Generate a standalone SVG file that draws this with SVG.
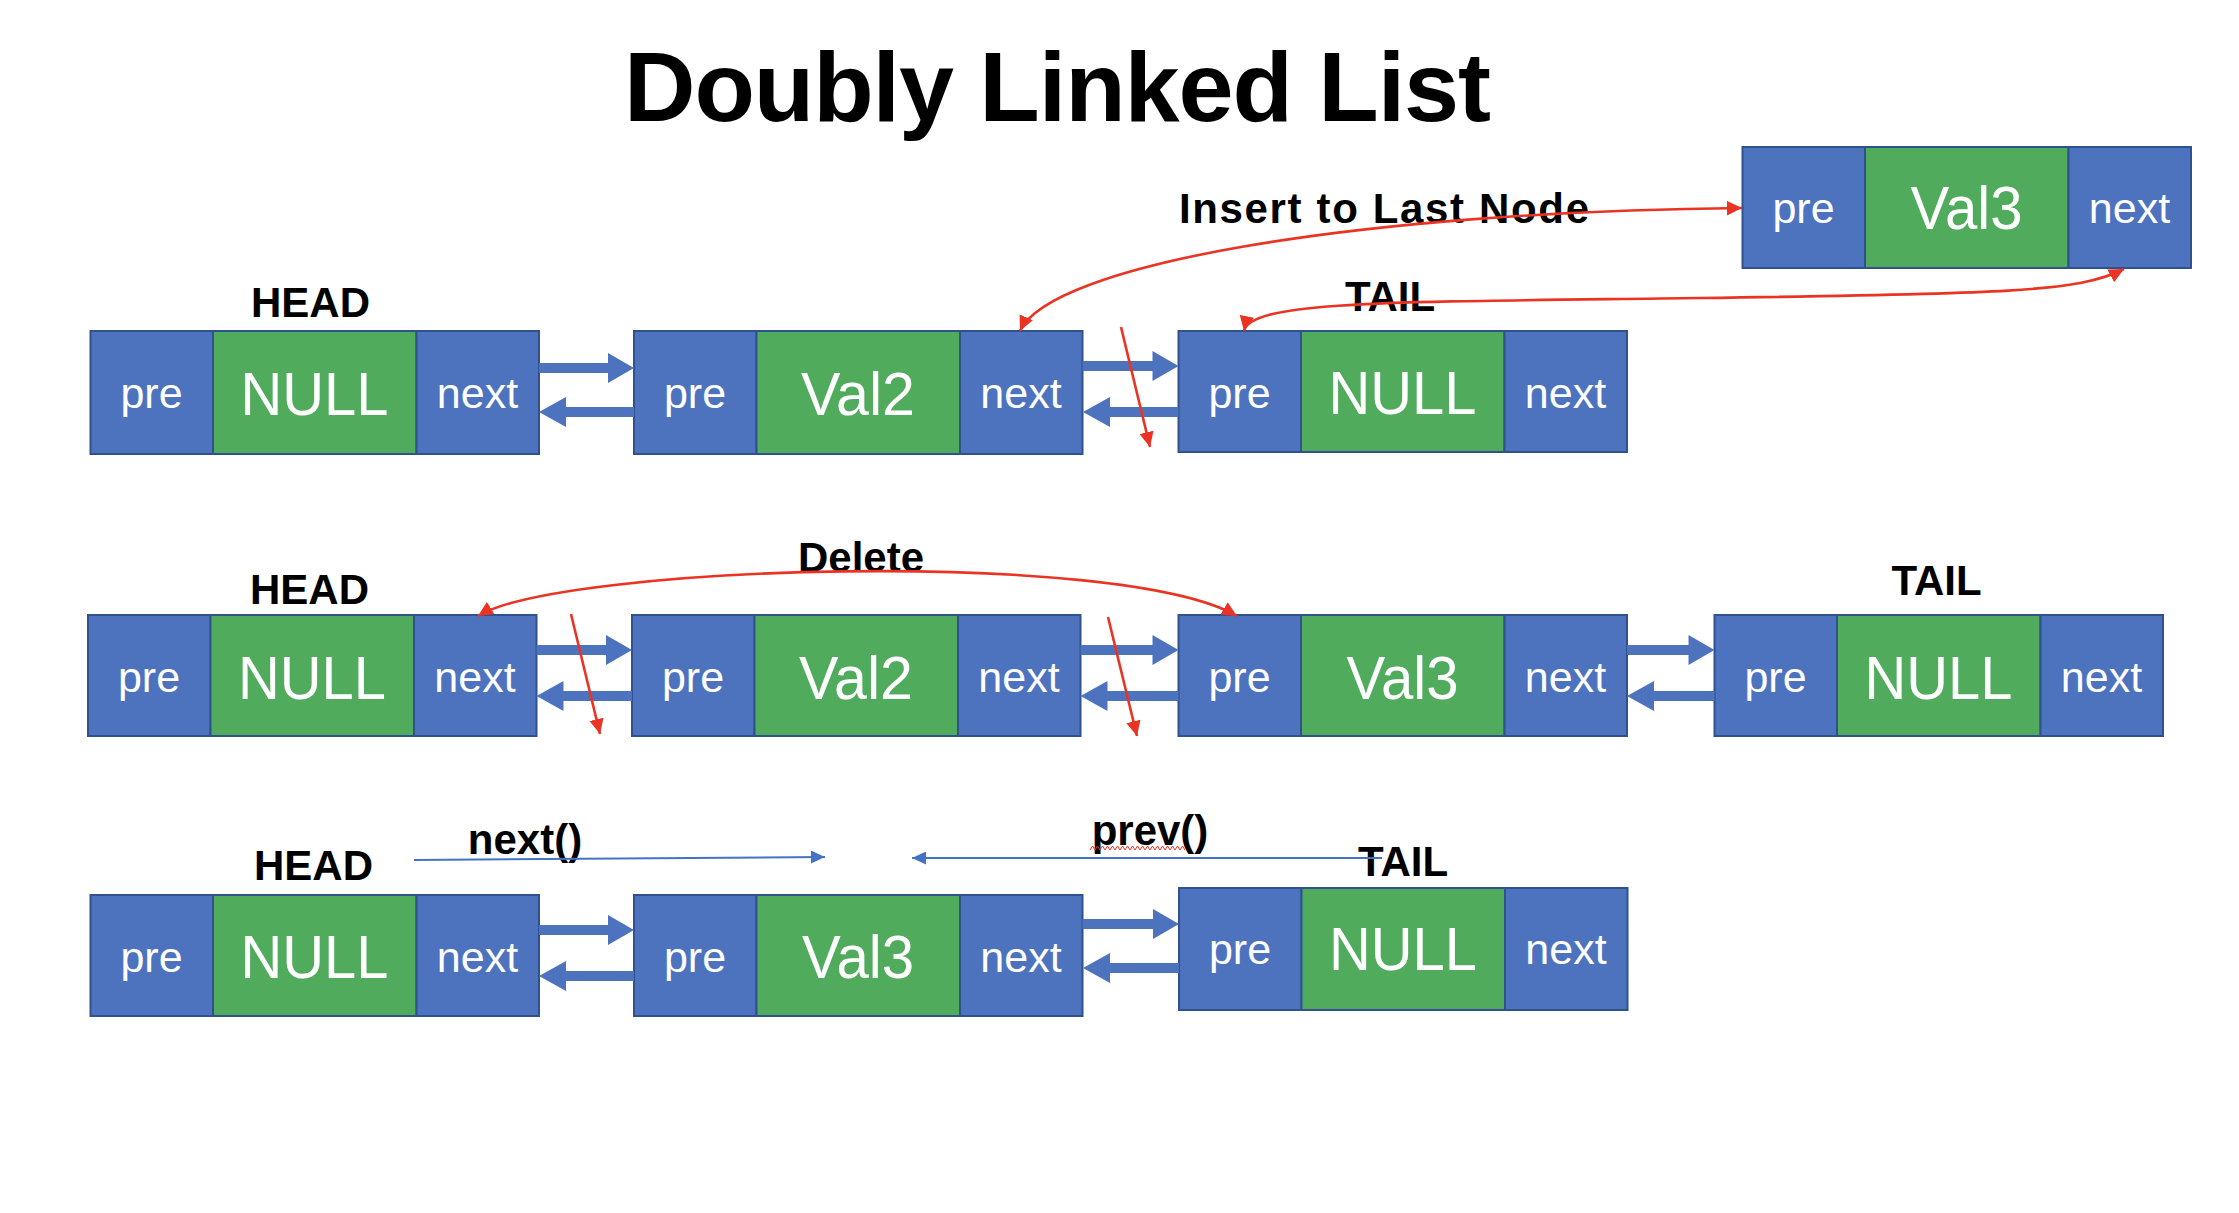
<svg xmlns="http://www.w3.org/2000/svg" width="2239" height="1213" viewBox="0 0 2239 1213">
<style>
.c{fill:#4E73BE;stroke:#2F528F;stroke-width:2}
.v{fill:#51AB5D;stroke:#2F528F;stroke-width:2}
.t{font-family:"Liberation Sans",Arial,sans-serif;fill:#fff;text-anchor:middle}
.s{font-size:43px}
.b{font-size:62px}
.lb{font-family:"Liberation Sans",Arial,sans-serif;font-weight:bold;font-size:42px;fill:#000;text-anchor:middle}
.ba{fill:#4E73BE}
.red{fill:none;stroke:#EA3323;stroke-width:2.6}
.bl{fill:none;stroke:#4472C4;stroke-width:2}
</style>
<defs>
<marker id="ra" markerUnits="userSpaceOnUse" markerWidth="16" markerHeight="15" refX="15" refY="7.25" orient="auto-start-reverse"><path d="M0,0 L15,7.25 L0,14.5 z" fill="#EA3323"/></marker>
<marker id="ba" markerUnits="userSpaceOnUse" markerWidth="15" markerHeight="13" refX="14" refY="6.5" orient="auto"><path d="M0,0 L14,6.5 L0,13 z" fill="#4472C4"/></marker>
</defs>
<rect width="2239" height="1213" fill="#fff"/>

<text x="624" y="121" font-family="Liberation Sans,Arial,sans-serif" font-weight="bold" font-size="99" textLength="867" lengthAdjust="spacing">Doubly Linked List</text>

<g id="r1n1" transform="translate(90.5,331)"><rect class="c" width="122.5" height="123"/><rect class="v" x="122.5" width="203.5" height="123"/><rect class="c" x="326" width="122.5" height="123"/><text class="t s" x="61" y="77">pre</text><text class="t b" x="224" y="84" textLength="148" lengthAdjust="spacingAndGlyphs">NULL</text><text class="t s" x="387" y="77">next</text></g>
<g id="r1n2" transform="translate(634,331)"><rect class="c" width="122.5" height="123"/><rect class="v" x="122.5" width="203.5" height="123"/><rect class="c" x="326" width="122.5" height="123"/><text class="t s" x="61" y="77">pre</text><text class="t b" x="224" y="84" textLength="114" lengthAdjust="spacingAndGlyphs">Val2</text><text class="t s" x="387" y="77">next</text></g>
<g id="r1n3" transform="translate(1178.5,331)"><rect class="c" width="122.5" height="121"/><rect class="v" x="122.5" width="203.5" height="121"/><rect class="c" x="326" width="122.5" height="121"/><text class="t s" x="61" y="77">pre</text><text class="t b" x="224" y="83" textLength="148" lengthAdjust="spacingAndGlyphs">NULL</text><text class="t s" x="387" y="77">next</text></g>
<g id="r1v3" transform="translate(1742.5,147)"><rect class="c" width="122.5" height="121"/><rect class="v" x="122.5" width="203.5" height="121"/><rect class="c" x="326" width="122.5" height="121"/><text class="t s" x="61" y="76">pre</text><text class="t b" x="224" y="82" textLength="112" lengthAdjust="spacingAndGlyphs">Val3</text><text class="t s" x="387" y="76">next</text></g>

<g id="r2n1" transform="translate(88,615)"><rect class="c" width="122.5" height="121"/><rect class="v" x="122.5" width="203.5" height="121"/><rect class="c" x="326" width="122.5" height="121"/><text class="t s" x="61" y="77">pre</text><text class="t b" x="224" y="84" textLength="148" lengthAdjust="spacingAndGlyphs">NULL</text><text class="t s" x="387" y="77">next</text></g>
<g id="r2n2" transform="translate(632,615)"><rect class="c" width="122.5" height="121"/><rect class="v" x="122.5" width="203.5" height="121"/><rect class="c" x="326" width="122.5" height="121"/><text class="t s" x="61" y="77">pre</text><text class="t b" x="224" y="84" textLength="114" lengthAdjust="spacingAndGlyphs">Val2</text><text class="t s" x="387" y="77">next</text></g>
<g id="r2n3" transform="translate(1178.5,615)"><rect class="c" width="122.5" height="121"/><rect class="v" x="122.5" width="203.5" height="121"/><rect class="c" x="326" width="122.5" height="121"/><text class="t s" x="61" y="77">pre</text><text class="t b" x="224" y="84" textLength="112" lengthAdjust="spacingAndGlyphs">Val3</text><text class="t s" x="387" y="77">next</text></g>
<g id="r2n4" transform="translate(1714.5,615)"><rect class="c" width="122.5" height="121"/><rect class="v" x="122.5" width="203.5" height="121"/><rect class="c" x="326" width="122.5" height="121"/><text class="t s" x="61" y="77">pre</text><text class="t b" x="224" y="84" textLength="148" lengthAdjust="spacingAndGlyphs">NULL</text><text class="t s" x="387" y="77">next</text></g>

<g id="r3n1" transform="translate(90.5,895)"><rect class="c" width="122.5" height="121"/><rect class="v" x="122.5" width="203.5" height="121"/><rect class="c" x="326" width="122.5" height="121"/><text class="t s" x="61" y="77">pre</text><text class="t b" x="224" y="83" textLength="148" lengthAdjust="spacingAndGlyphs">NULL</text><text class="t s" x="387" y="77">next</text></g>
<g id="r3n2" transform="translate(634,895)"><rect class="c" width="122.5" height="121"/><rect class="v" x="122.5" width="203.5" height="121"/><rect class="c" x="326" width="122.5" height="121"/><text class="t s" x="61" y="77">pre</text><text class="t b" x="224" y="83" textLength="112" lengthAdjust="spacingAndGlyphs">Val3</text><text class="t s" x="387" y="77">next</text></g>
<g id="r3n3" transform="translate(1179,888)"><rect class="c" width="122.5" height="122"/><rect class="v" x="122.5" width="203.5" height="122"/><rect class="c" x="326" width="122.5" height="122"/><text class="t s" x="61" y="76">pre</text><text class="t b" x="224" y="82" textLength="148" lengthAdjust="spacingAndGlyphs">NULL</text><text class="t s" x="387" y="76">next</text></g>

<g id="labels">
<text class="lb" x="310.5" y="317">HEAD</text>
<text class="lb" x="1390" y="310.5">TAIL</text>
<text class="lb" x="1384" y="223" textLength="410" lengthAdjust="spacing">Insert to Last Node</text>
<text class="lb" x="861" y="571.5">Delete</text>
<text class="lb" x="309.5" y="604">HEAD</text>
<text class="lb" x="1936.5" y="595">TAIL</text>
<text class="lb" x="313.5" y="880">HEAD</text>
<text class="lb" x="1403" y="876">TAIL</text>
<text class="lb" x="525" y="854">next()</text>
<text class="lb" x="1150" y="845">prev()</text>
<path d="M1090 850 l2.5 -4 2.5 4 2.5 -4 2.5 4 2.5 -4 2.5 4 2.5 -4 2.5 4 2.5 -4 2.5 4 2.5 -4 2.5 4 2.5 -4 2.5 4 2.5 -4 2.5 4 2.5 -4 2.5 4 2.5 -4 2.5 4 2.5 -4 2.5 4 2.5 -4 2.5 4 2.5 -4 2.5 4 2.5 -4 2.5 4 2.5 -4 2.5 4 2.5 -4 2.5 4 2.5 -4 2.5 4 2.5 -4 2.5 4 2.5 -4 2.5 4" fill="none" stroke="#EA3323" stroke-width="1"/>
</g>

<g id="connectors">
<polygon class="ba" points="539,363 608,363 608,353 634,368 608,383 608,373 539,373"/>
<polygon class="ba" points="634,407 566,407 566,397 539,412 566,427 566,417 634,417"/>
<polygon class="ba" points="1082.5,361 1152.5,361 1152.5,351 1178.5,366 1152.5,381 1152.5,371 1082.5,371"/>
<polygon class="ba" points="1178.5,407 1110,407 1110,397 1083,412 1110,427 1110,417 1178.5,417"/>

<polygon class="ba" points="536.5,645 606,645 606,635 632,650 606,665 606,655 536.5,655"/>
<polygon class="ba" points="632,691 563.5,691 563.5,681 536.5,696 563.5,711 563.5,701 632,701"/>
<polygon class="ba" points="1080.5,645 1152.5,645 1152.5,635 1178.5,650 1152.5,665 1152.5,655 1080.5,655"/>
<polygon class="ba" points="1178.5,691 1107.5,691 1107.5,681 1080.5,696 1107.5,711 1107.5,701 1178.5,701"/>
<polygon class="ba" points="1627,645 1688.5,645 1688.5,635 1714.5,650 1688.5,665 1688.5,655 1627,655"/>
<polygon class="ba" points="1714.5,691 1654,691 1654,681 1627,696 1654,711 1654,701 1714.5,701"/>

<polygon class="ba" points="539,925 608,925 608,915 634,930 608,945 608,935 539,935"/>
<polygon class="ba" points="634,971 566,971 566,961 539,976 566,991 566,981 634,981"/>
<polygon class="ba" points="1082.5,919 1153,919 1153,909 1179,924 1153,939 1153,929 1082.5,929"/>
<polygon class="ba" points="1179,963 1110,963 1110,953 1083,968 1110,983 1110,973 1179,973"/>

<path class="red" d="M1020 331 C1050 265 1350 212 1742 208" marker-start="url(#ra)" marker-end="url(#ra)"/>
<path class="red" d="M1244 331 C1250 300 1400 302 1700 298 C2000 294 2080 292 2124 269" marker-start="url(#ra)" marker-end="url(#ra)"/>
<path class="red" d="M1121 327 L1150 447" marker-end="url(#ra)"/>
<path class="red" d="M478 616 C560 565 1120 548 1237 616" marker-start="url(#ra)" marker-end="url(#ra)"/>
<path class="red" d="M571 614 L600 734" marker-end="url(#ra)"/>
<path class="red" d="M1108 617 L1137 736" marker-end="url(#ra)"/>

<path class="bl" d="M414 860 L825 857" marker-end="url(#ba)"/>
<path class="bl" d="M1382 858 L912 858" marker-end="url(#ba)"/>
</g>
</svg>
